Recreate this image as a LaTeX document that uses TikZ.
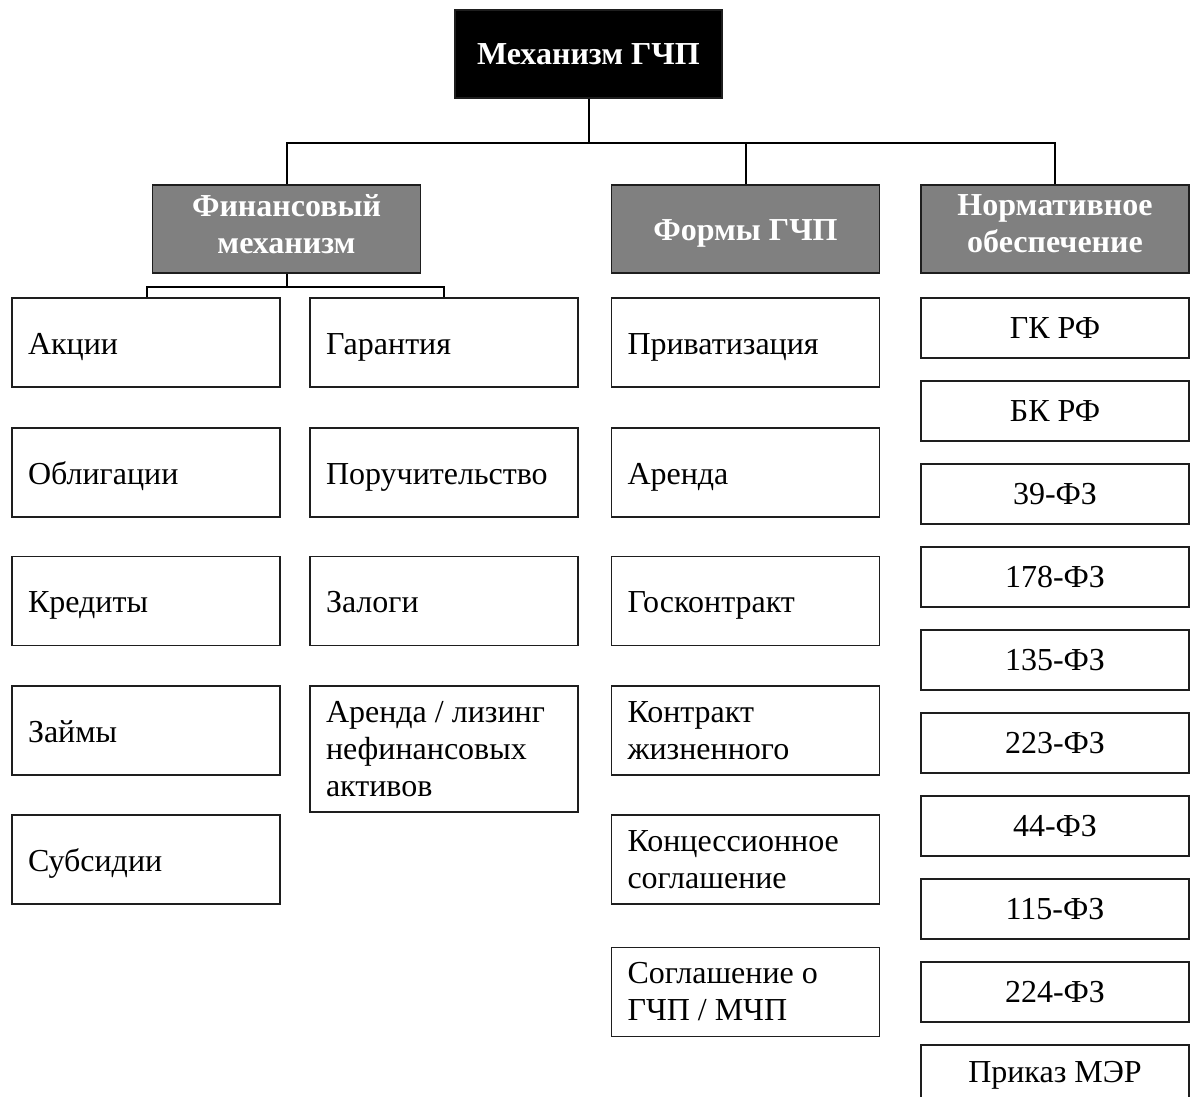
\documentclass[tikz,border=0pt]{standalone}
\usepackage{fontspec}
\setmainfont{Liberation Serif}
\usetikzlibrary{positioning}
\definecolor{cHead}{RGB}{128,128,128}
\definecolor{cLine}{RGB}{30,30,30}
\tikzset{
  basebox/.style={rectangle,draw=cLine,line width=0.7pt,
                  font=\fontsize{16}{18.5}\selectfont},
  topnode/.style={basebox,fill=black,text=white,minimum width=133.5pt,
                  minimum height=44pt,font=\fontsize{16}{18.5}\selectfont\bfseries},
  headnode/.style={basebox,fill=cHead,text=white,minimum width=134pt,
                   minimum height=44pt,align=center,text height=11.5pt,
                   text depth=0pt,font=\fontsize{16}{18.5}\selectfont\bfseries},
  headtwo/.style={headnode,text height=,text depth=5pt},
  itemnode/.style={basebox,fill=white,text width=118pt,inner xsep=8pt,
                   minimum height=44.5pt,align=flush left,
                   text height=11.5pt,text depth=0pt},
  itemtwo/.style={itemnode,text height=,text depth=},
  lawnode/.style={basebox,fill=white,minimum width=134pt,
                  minimum height=30pt,align=center},
  link/.style={draw=black,line width=1pt}
}
\begin{document}
\begin{tikzpicture}[x=0.5pt,y=-0.5pt]
  \useasboundingbox (0,0) rectangle (1190,1097);

  % Top
  \node[topnode] (top) at (588.5,54) {Механизм ГЧП};

  % Heads
  \node[headtwo] (fin) at (286.5,229) {Финансовый\\механизм};
  \node[headnode] (form) at (745.5,229) {Формы ГЧП};
  \node[headtwo] (law) at (1055,229) {Нормативное\\обеспечение};

  % Connectors from top
  \coordinate (bus) at (588.5,143);
  \draw[link] (top.south) -- (bus);
  \draw[link] (fin.north) |- (bus) -| (law.north);
  \draw[link] (form.north) -- (form.north |- bus);

  % Financial items
  \node[itemnode] (f1) at (146,342.5) {Акции};
  \node[itemnode] (f2) at (146,472.5) {Облигации};
  \node[itemnode] (f3) at (146,601) {Кредиты};
  \node[itemnode] (f4) at (146,730.5) {Займы};
  \node[itemnode] (f5) at (146,859.5) {Субсидии};
  \node[itemnode] (g1) at (444,342.5) {Гарантия};
  \node[itemnode] (g2) at (444,472.5) {Поручительство};
  \node[itemnode] (g3) at (444,601) {Залоги};
  \node[itemtwo,minimum height=63pt] (g4) at (444,749)
      {Аренда / лизинг\\нефинансовых\\активов};

  \coordinate (finbus) at (286.5,287);
  \draw[link] (fin.south) -- (finbus);
  \draw[link] (f1.north -| 147,0) |- (finbus) -| (g1.north);

  % Forms
  \node[itemnode] (p1) at (745.5,342.5) {Приватизация};
  \node[itemnode] (p2) at (745.5,472.5) {Аренда};
  \node[itemnode] (p3) at (745.5,601) {Госконтракт};
  \node[itemtwo] (p4) at (745.5,730.5) {Контракт\\жизненного};
  \node[itemtwo] (p5) at (745.5,859.5) {Концессионное\\соглашение};
  \node[itemtwo] (p6) at (745.5,992) {Соглашение о\\ГЧП / МЧП};

  % Laws
  \foreach \lbl [count=\i from 0] in {ГК РФ,БК РФ,39-ФЗ,178-ФЗ,135-ФЗ,
      223-ФЗ,44-ФЗ,115-ФЗ,224-ФЗ,Приказ МЭР}
    \node[lawnode] (l\i) at (1055,328+83*\i) {\lbl};

\end{tikzpicture}
\end{document}
